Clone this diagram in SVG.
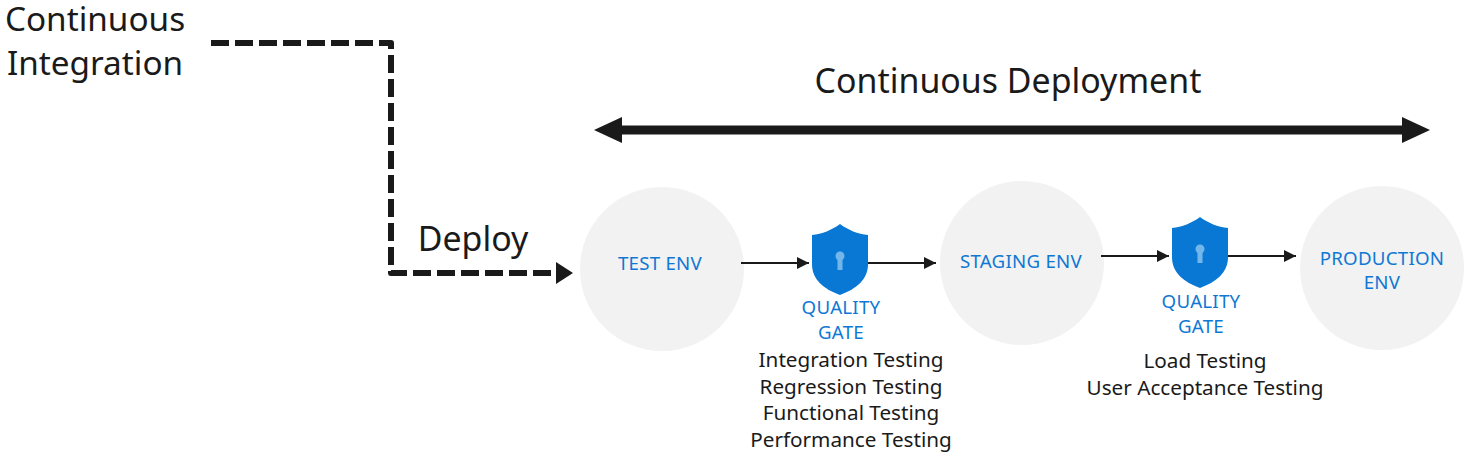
<svg xmlns="http://www.w3.org/2000/svg" width="1469" height="458" viewBox="0 0 1469 458">
<style>
text{font-family:"Noto Sans","Open Sans",sans-serif;text-anchor:middle}
.big{font-size:33.9px;fill:#1a1a1a}
.ci{font-size:33.3px;fill:#1a1a1a}
.mid{font-size:20.7px;fill:#1a1a1a}
.blue{font-size:18.7px;letter-spacing:.25px;fill:#0f78d4}
.env{fill:#f2f2f2}
.thin{fill:none;stroke:#1a1a1a;stroke-width:2}
.key{fill:#73b7ea}
.shield{fill:#0878d4}
</style>
<defs>
<marker id="a" markerUnits="userSpaceOnUse" markerWidth="12" markerHeight="12" refX="12" refY="6" orient="auto"><path d="M0 0L12 6L0 12Z" fill="#1a1a1a"/></marker>
<path id="sh" d="M28 0C36 6 46 10 56 11V40C56 56 44 65 28 71C12 65 0 56 0 40V11C10 10 20 6 28 0Z"/>
</defs>
<g id="label-ci"><text class="ci" x="95" y="31">Continuous</text><text class="ci" x="95" y="75">Integration</text></g>
<g id="label-cd"><text class="big" x="1008" y="93">Continuous Deployment</text></g>
<g id="label-deploy"><text class="big" x="473" y="251">Deploy</text></g>
<g id="test-env"><circle class="env" cx="662" cy="269" r="82"/><text class="blue" x="660" y="270">TEST ENV</text></g>
<g id="staging-env"><circle class="env" cx="1022" cy="263" r="82"/><text class="blue" x="1021" y="268">STAGING ENV</text></g>
<g id="production-env"><circle class="env" cx="1382" cy="268" r="82"/><text class="blue" x="1382" y="265">PRODUCTION</text><text class="blue" x="1382" y="289">ENV</text></g>
<g id="connectors">
<path d="M211 43H391V273H556" fill="none" stroke="#1a1a1a" stroke-width="6" stroke-dasharray="18 6" stroke-linejoin="round"/>
<path d="M573 273L556 262V284Z" fill="#1a1a1a"/>
<path d="M610 130H1414" stroke="#1a1a1a" stroke-width="9" fill="none"/>
<path d="M594 130L622 117V143Z" fill="#1a1a1a"/>
<path d="M1430 130L1402 117V143Z" fill="#1a1a1a"/>
<path class="thin" d="M741 263H809" marker-end="url(#a)"/>
<path class="thin" d="M866 263H936" marker-end="url(#a)"/>
<path class="thin" d="M1101 256H1169" marker-end="url(#a)"/>
<path class="thin" d="M1226 256H1296" marker-end="url(#a)"/>
</g>
<g id="gate-1">
<use href="#sh" class="shield" x="812" y="224"/>
<circle class="key" cx="840" cy="256" r="4.5"/><rect class="key" x="837.5" y="256" width="5" height="14"/>
<text class="blue" x="841" y="314">QUALITY</text><text class="blue" x="841" y="339">GATE</text>
</g>
<g id="gate-2">
<use href="#sh" class="shield" x="1172" y="217"/>
<circle class="key" cx="1200" cy="249" r="4.5"/><rect class="key" x="1197.5" y="249" width="5" height="14"/>
<text class="blue" x="1201" y="308">QUALITY</text><text class="blue" x="1201" y="333">GATE</text>
</g>
<g id="tests-1"><text class="mid" x="851" y="367">Integration Testing</text><text class="mid" x="851" y="394">Regression Testing</text><text class="mid" x="851" y="420">Functional Testing</text><text class="mid" x="851" y="447">Performance Testing</text></g>
<g id="tests-2"><text class="mid" x="1205" y="368">Load Testing</text><text class="mid" x="1205" y="395">User Acceptance Testing</text></g>
</svg>
